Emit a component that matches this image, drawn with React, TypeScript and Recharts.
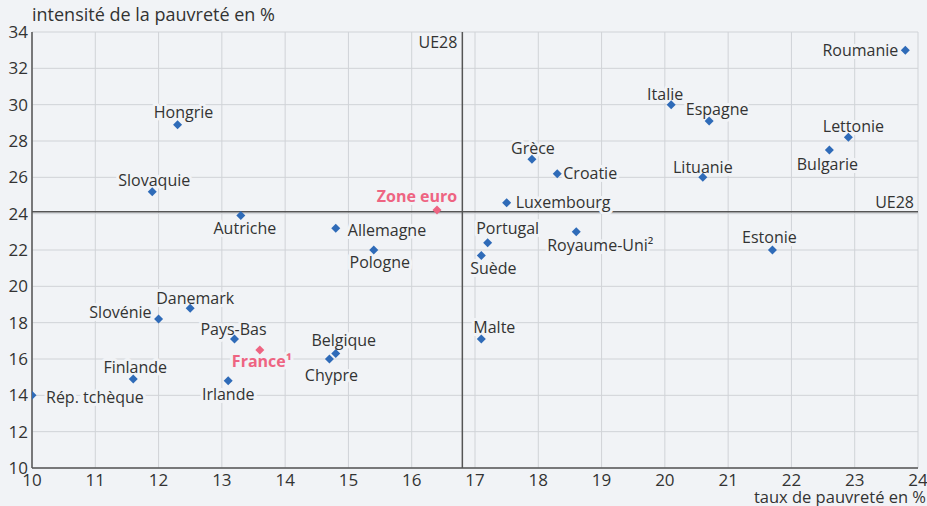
import { CartesianGrid, ReferenceLine, Scatter, ScatterChart, XAxis, YAxis } from "recharts";

// taux de pauvreté (x) / intensité de la pauvreté (y), en %
const countries = [
  "Roumanie", "Italie", "Espagne", "Lettonie", "Bulgarie", "Lituanie", "Grèce", "Croatie",
  "Luxembourg", "Portugal", "Suède", "Royaume-Uni²", "Estonie", "Allemagne", "Pologne",
  "Autriche", "Hongrie", "Slovaquie", "Danemark", "Slovénie", "Pays-Bas", "Belgique",
  "Chypre", "Malte", "Finlande", "Irlande", "Rép. tchèque",
];
const tauxPauvrete = [
  23.8, 20.1, 20.7, 22.9, 22.6, 20.6, 17.9, 18.3,
  17.5, 17.2, 17.1, 18.6, 21.7, 14.8, 15.4,
  13.3, 12.3, 11.9, 12.5, 12.0, 13.2, 14.8,
  14.7, 17.1, 11.6, 13.1, 10.0,
];
const intensite = [
  33.0, 30.0, 29.1, 28.2, 27.5, 26.0, 27.0, 26.2,
  24.6, 22.4, 21.7, 23.0, 22.0, 23.2, 22.0,
  23.9, 28.9, 25.2, 18.8, 18.2, 17.1, 16.3,
  16.0, 17.1, 14.9, 14.8, 14.0,
];
const highlighted = ["Zone euro", "France¹"];
const highlightedX = [16.4, 13.6];
const highlightedY = [24.2, 16.5];

const ue28X = 16.8;
const ue28Y = 24.1;

const xTicks = [10, 11, 12, 13, 14, 15, 16, 17, 18, 19, 20, 21, 22, 23, 24];
const yTicks = [10, 12, 14, 16, 18, 20, 22, 24, 26, 28, 30, 32, 34];

const BG = "#f1f3f6";
const BLUE = "#2f6bb8";
const PINK = "#ee6482";
const TEXT = "#333";
const FONT = "'Open Sans', 'Noto Sans', sans-serif";

// label placement relative to the marker: dx, dy, anchor
const labelPos: Record<string, [number, number, "start" | "middle" | "end"]> = {
  Roumanie: [-7, 0, "end"],
  Italie: [-6, -11, "middle"],
  Espagne: [8, -12, "middle"],
  Lettonie: [5, -11, "middle"],
  Bulgarie: [-2, 14, "middle"],
  Lituanie: [0, -10, "middle"],
  "Grèce": [1, -11, "middle"],
  Croatie: [6, -1, "start"],
  Luxembourg: [9, -1, "start"],
  "Zone euro": [-20, -14, "middle"],
  Portugal: [20, -15, "middle"],
  "Suède": [12, 13, "middle"],
  "Royaume-Uni²": [24, 13, "middle"],
  Estonie: [-3, -13, "middle"],
  Allemagne: [12, 2, "start"],
  Pologne: [6, 12, "middle"],
  Autriche: [4, 13, "middle"],
  Hongrie: [6, -13, "middle"],
  Slovaquie: [2, -12, "middle"],
  Danemark: [5, -10, "middle"],
  "Slovénie": [-7, -7, "end"],
  "Pays-Bas": [-1, -10, "middle"],
  "France¹": [2, 11, "middle"],
  Belgique: [8, -14, "middle"],
  Chypre: [2, 16, "middle"],
  Malte: [13, -12, "middle"],
  Finlande: [2, -12, "middle"],
  Irlande: [0, 13, "middle"],
  "Rép. tchèque": [14, 2, "start"],
};

const countryData = countries.map((name, i) => ({ name, x: tauxPauvrete[i], y: intensite[i] }));
const highlightData = highlighted.map((name, i) => ({ name, x: highlightedX[i], y: highlightedY[i] }));

const diamond = (color: string) => (props: any) => {
  const { cx, cy } = props;
  const r = 4.5;
  return (
    <polygon
      points={`${cx},${cy - r} ${cx + r},${cy} ${cx},${cy + r} ${cx - r},${cy}`}
      fill={color}
    />
  );
};

const label = (color: string, bold: boolean) => (props: any) => {
  const { cx, cy, payload } = props;
  const [dx, dy, anchor] = labelPos[payload.name] ?? [0, -12, "middle"];
  return (
    <text
      x={cx + dx}
      y={cy + dy}
      textAnchor={anchor}
      dominantBaseline="central"
      fontSize={16}
      fontFamily={FONT}
      fontWeight={bold ? 700 : 400}
      fill={color}
      stroke={BG}
      strokeWidth={6}
      strokeLinejoin="round"
      paintOrder="stroke"
    >
      {payload.name}
    </text>
  );
};

export default function App() {
  return (
    <div style={{ position: "fixed", left: 0, top: 0, width: 927, height: 506, background: BG, fontFamily: FONT, overflow: "hidden" }}>
      <div style={{ position: "absolute", left: 32, top: 2, fontSize: 18, color: TEXT, lineHeight: "24px" }}>
        intensité de la pauvreté en %
      </div>
      <div style={{ position: "absolute", right: 1, top: 488, fontSize: 16.5, color: TEXT, lineHeight: "18px" }}>
        taux de pauvreté en %
      </div>
      <ScatterChart width={927} height={506} margin={{ top: 32, right: 9, bottom: 0, left: 0 }}>
        <CartesianGrid stroke="#d0d3d7" strokeWidth={1} />
        <XAxis
          type="number"
          dataKey="x"
          domain={[10, 24]}
          ticks={xTicks}
          interval={0}
          height={38}
          tickSize={0}
          tickMargin={6}
          axisLine={{ stroke: "#555", strokeWidth: 1.5 }}
          tick={{ fill: TEXT, fontSize: 17, fontFamily: FONT }}
          allowDataOverflow
        />
        <YAxis
          type="number"
          dataKey="y"
          domain={[10, 34]}
          ticks={yTicks}
          interval={0}
          width={32}
          tickSize={0}
          tickMargin={4}
          axisLine={{ stroke: "#555", strokeWidth: 1.5 }}
          tick={{ fill: TEXT, fontSize: 17, fontFamily: FONT }}
          allowDataOverflow
        />
        <ReferenceLine
          x={ue28X}
          stroke="#555"
          strokeWidth={1.5}
          label={{ value: "UE28", position: "insideTopRight", fill: TEXT, fontSize: 16, fontFamily: FONT, offset: 5 }}
        />
        <ReferenceLine
          y={ue28Y}
          stroke="#555"
          strokeWidth={1.5}
          label={{ value: "UE28", position: "insideBottomRight", fill: TEXT, fontSize: 16, fontFamily: FONT, offset: 4 }}
        />
        <Scatter data={countryData} shape={label(TEXT, false)} isAnimationActive={false} />
        <Scatter data={highlightData} shape={label(PINK, true)} isAnimationActive={false} />
        <Scatter data={countryData} shape={diamond(BLUE)} isAnimationActive={false} />
        <Scatter data={highlightData} shape={diamond(PINK)} isAnimationActive={false} />
      </ScatterChart>
    </div>
  );
}
